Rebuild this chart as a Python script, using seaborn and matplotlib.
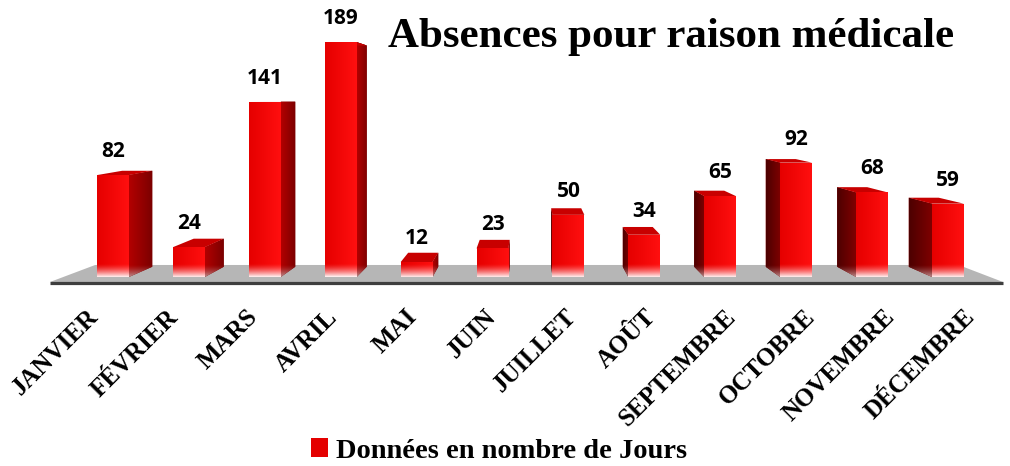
import numpy as np
import pandas as pd
import matplotlib
matplotlib.use("Agg")
import matplotlib.pyplot as plt
import seaborn as sns
from matplotlib.patches import Polygon, Patch
from matplotlib.lines import Line2D

# ---- data -------------------------------------------------------------
mois = ["JANVIER", "FÉVRIER", "MARS", "AVRIL", "MAI", "JUIN",
        "JUILLET", "AOÛT", "SEPTEMBRE", "OCTOBRE", "NOVEMBRE", "DÉCEMBRE"]
jours = [82, 24, 141, 189, 12, 23, 50, 34, 65, 92, 68, 59]
titre = "Absences pour raison médicale"
serie = "Données en nombre de Jours"

df = pd.DataFrame({"mois": mois, "jours": jours})

# ---- style ------------------------------------------------------------
sns.set_theme(style="white")
plt.rcParams["font.family"] = ["Liberation Serif", "DejaVu Serif"]
plt.rcParams["text.color"] = "black"

W, H = 1010, 466
fig = plt.figure(figsize=(W / 100, H / 100), dpi=100)
ax = fig.add_axes([0, 0, 1, 1])

# pixel geometry of the plotting frame
SX, SY = 75.9, 1.243          # px per category step / px per day
X0, Y0 = 113, 277             # pixel position of category 0 / zero line


def frame():
    ax.set_xlim(-X0 / SX, (W - X0) / SX)
    ax.set_ylim((Y0 - H) / SY, Y0 / SY)


frame()

# perspective: faces recede toward a vanishing point
VX, VY = 5.5, (Y0 - 101) / SY
T_BAR, T_FLOOR = 0.058, 0.094


def recede(x, y, t):
    return x + t * (VX - x), y + t * (VY - y)


# ---- floor --------------------------------------------------------------
fy = -5 / SY
fl, fr = (50 - X0) / SX, (1003 - X0) / SX
floor = Polygon([(fl, fy), (fr, fy), recede(fr, fy, T_FLOOR), recede(fl, fy, T_FLOOR)],
                closed=True, facecolor="#b6b6b6", edgecolor="none", zorder=1)
ax.add_patch(floor)
ax.add_line(Line2D([fl, fr], [fy - 0.6, fy - 0.6], color="#3e3e3e", lw=2.3,
                   solid_capstyle="butt", zorder=2))

# ---- bars (front faces) -------------------------------------------------
sns.barplot(data=df, x="mois", y="jours", color="#f00000", saturation=1,
            width=0.42, ax=ax, zorder=5, linewidth=0)
frame()


def shaded(c_left, c_right, ylo, yhi, fade_to, fade_px, nx=40, ny=240):
    c_left, c_right, fade_to = map(np.asarray, (c_left, c_right, fade_to))
    xs = np.linspace(0, 1, nx)[:, None]
    row = c_left + (c_right - c_left) * xs
    ys_px = np.linspace(ylo, yhi, ny) * SY
    f = np.clip(1 - ys_px / fade_px, 0, 1) ** 1.4
    img = row[None, :, :] * (1 - f[:, None, None]) + fade_to * f[:, None, None]
    return np.clip(img, 0, 1)


def paint(clip, img, extent, z):
    im = ax.imshow(img, extent=extent, origin="lower", aspect="auto",
                   interpolation="bilinear", zorder=z)
    im.set_clip_path(clip)


red_l, red_r = (0.90, 0.0, 0.0), (1.0, 0.06, 0.06)
bars = [p for p in ax.patches if p is not floor]

for i, p in enumerate(bars):
    xl, w, h = p.get_x(), p.get_width(), p.get_height()
    xr = xl + w
    cx = xl + w / 2
    # side face, on the edge facing the vanishing point
    ex = xr if cx < VX else xl
    bx0, by0 = recede(ex, 0, T_BAR)
    bx1, by1 = recede(ex, h, T_BAR)
    side_pts = [(ex, 0), (ex, h), (bx1, by1), (bx0, by0)]
    if cx < VX:
        c_a, c_b = (0.70, 0.0, 0.0), (0.48, 0.0, 0.0)
    else:
        c_a, c_b = (0.30, 0.0, 0.0), (0.50, 0.0, 0.0)
    side = Polygon(side_pts, closed=True, facecolor=c_b, edgecolor="none", zorder=3)
    ax.add_patch(side)
    xs_ = [q[0] for q in side_pts]
    ys_ = [q[1] for q in side_pts]
    ext = (min(xs_), max(xs_), min(ys_), max(ys_))
    paint(side, shaded(c_a, c_b, ext[2], ext[3], (0.72, 0.55, 0.55), 12),
          ext, 3.5)

    # top face
    tl, tr = recede(xl, h, T_BAR), recede(xr, h, T_BAR)
    top = Polygon([(xl, h), (xr, h), tr, tl], closed=True,
                  facecolor="#c80000", edgecolor="none", zorder=4)
    ax.add_patch(top)

    # front face gradient
    paint(p, shaded(red_l, red_r, 0, h, (1.0, 0.93, 0.93), 13),
          (xl, xr, 0, h), 6)

    ax.annotate(str(jours[i]), (cx, h), xytext=(0, 18), textcoords="offset pixels",
                ha="center", va="baseline", fontsize=15, fontweight="bold",
                family=["Open Sans", "DejaVu Sans"], color="black", zorder=8)

    # category label, spread along the front edge of the floor
    lx = VX + (cx - VX) * 1.05 + 7 / SX
    ax.text(lx, (Y0 - 318) / SY, mois[i], rotation=45,
            rotation_mode="anchor", ha="right", va="baseline",
            fontsize=18, fontweight="bold", color="black", zorder=8)

ax.set_axis_off()
frame()

# ---- title and legend ---------------------------------------------------
fig.text(388 / W, 1 - 47 / H, titre, ha="left", va="baseline",
         fontsize=31, fontweight="bold", color="black")

leg = fig.legend(handles=[Patch(facecolor="#e40000", edgecolor="none")],
                 labels=[serie], loc="center", bbox_to_anchor=(499 / W, 1 - 451 / H),
                 frameon=False, handlelength=0.6, handleheight=0.6,
                 handletextpad=0.3, prop={"size": 20.5, "weight": "bold"})
for t in leg.get_texts():
    t.set_color("black")

fig.savefig("out.png", dpi=100)
